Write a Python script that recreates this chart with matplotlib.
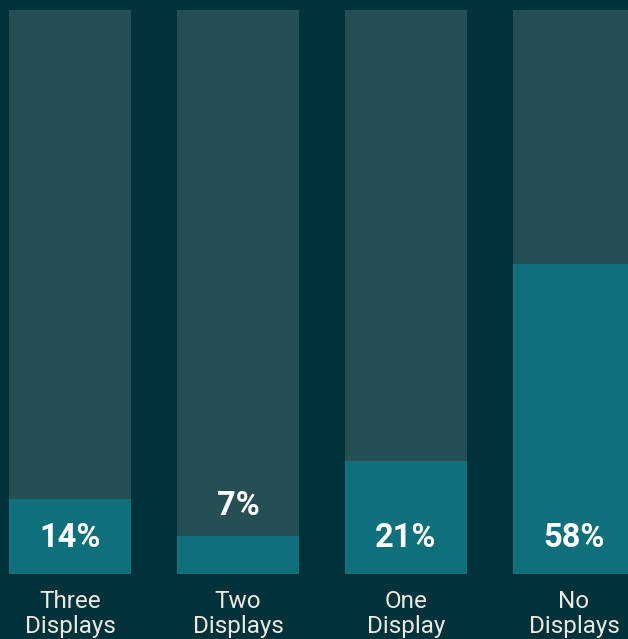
import matplotlib
matplotlib.use("Agg")
import matplotlib.pyplot as plt

# chart data
categories = ["Three\nDisplays", "Two\nDisplays", "One\nDisplay", "No\nDisplays"]
values = [14, 7, 21, 58]
value_labels = ["14%", "7%", "21%", "58%"]
track_max = 105.5  # grey track height, in the same units as values

BG = "#02323a"
TRACK = "#264f55"
FILL = "#0f6f7a"
TEXT = "#eceae2"

W, H = 628, 639
fig = plt.figure(figsize=(W / 100, H / 100), dpi=100, facecolor=BG)
ax = fig.add_axes([0, 0, 1, 1])
ax.set_facecolor(BG)

px_per_unit = 563.7 / track_max
bottom_px = 573.7
spacing_px = 168
first_center_px = 70
ax.set_xlim(-first_center_px / spacing_px, 3 + (W - 574) / spacing_px)
ax.set_ylim(-(H - bottom_px) / px_per_unit, bottom_px / px_per_unit)

x = list(range(len(categories)))
width = 122 / spacing_px
ax.bar(x, [track_max] * len(x), width=width, color=TRACK, linewidth=0)
ax.bar(x, values, width=width, color=FILL, linewidth=0)

for xi, v, lab, cat in zip(x, values, value_labels, categories):
    inside_y = 35.7 / px_per_unit
    if v * px_per_unit < 60:
        ty = v + 30 / px_per_unit
    else:
        ty = inside_y
    ax.text(xi, ty, lab, ha="center", va="center", color="white",
            fontsize=23.5, fontweight="bold", family="Roboto")
    ax.text(xi, -40.5 / px_per_unit, cat, ha="center", va="center",
            color=TEXT, fontsize=17.5, family="Roboto", linespacing=1.1)

ax.axis("off")
fig.savefig("out.png", dpi=100, facecolor=BG)
